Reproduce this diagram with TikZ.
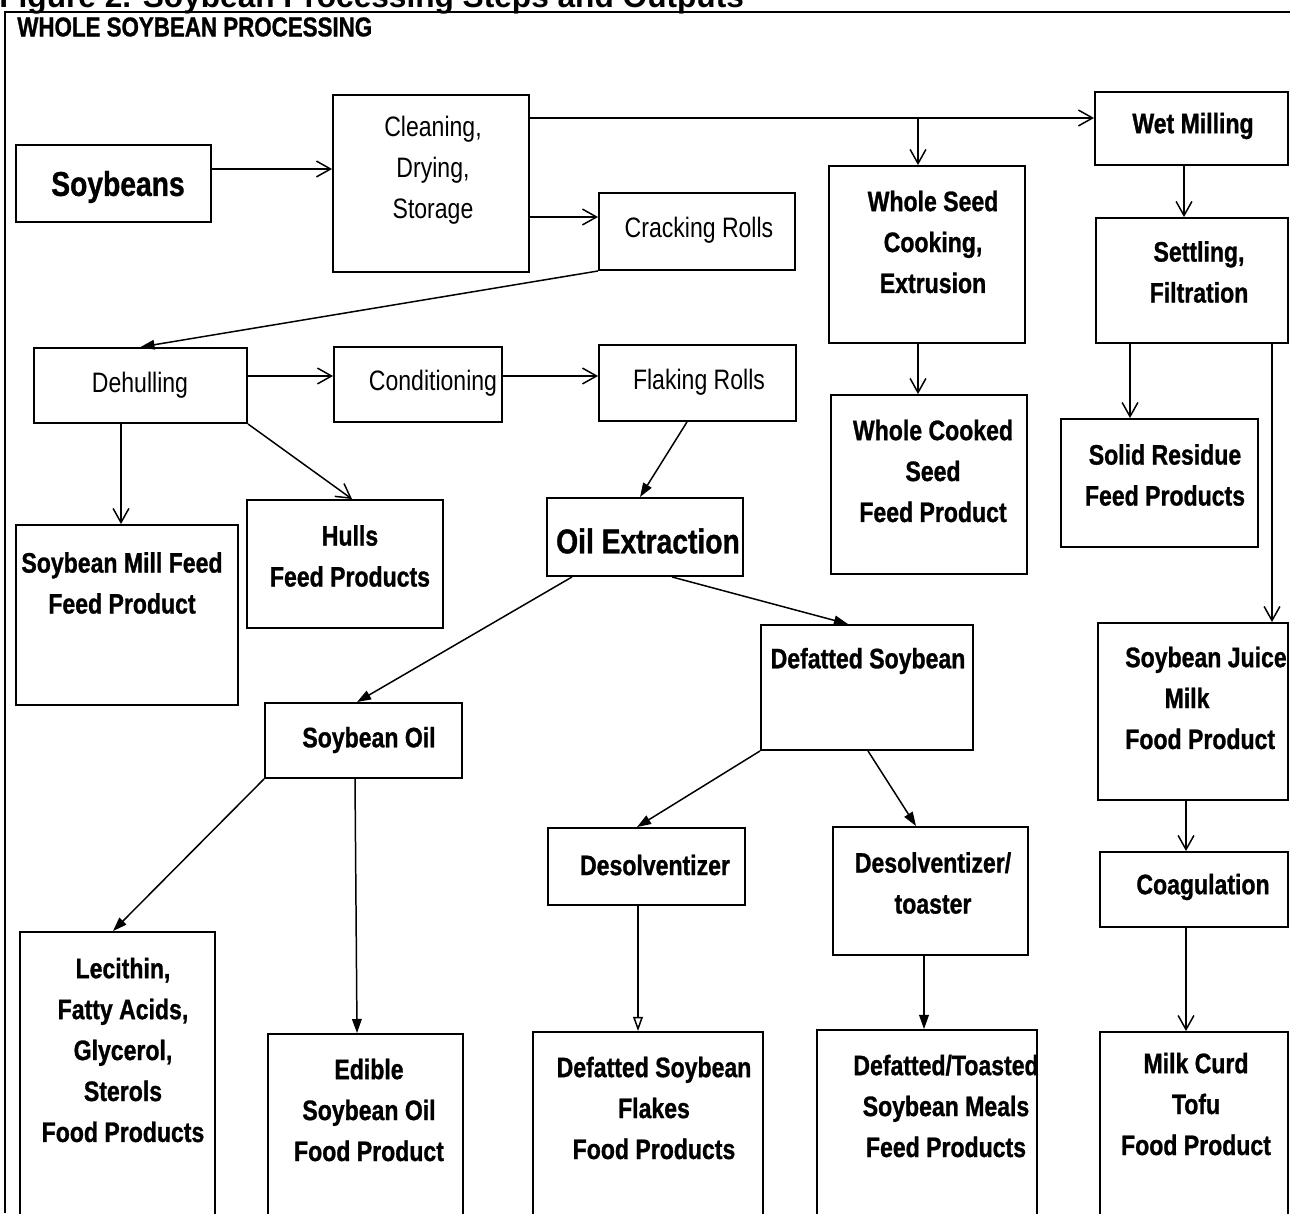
\documentclass[tikz,border=0pt]{standalone}
\usepackage{fontspec}
\usepackage{tikz}
\usetikzlibrary{arrows.meta,fit}
\newfontfamily\narrowsans{Liberation Sans}[FakeStretch=0.82, BoldFeatures={FakeBold=1}]
\newfontfamily\capsans{Liberation Sans}

\begin{document}
\begin{tikzpicture}[x=0.02cm, y=-0.02cm,
    box/.style={draw, line width=1.1pt, inner sep=0pt},
    lab/.style={align=center, inner sep=0pt, font=\narrowsans\bfseries\fontsize{16}{23.3}\selectfont},
    plainlab/.style={lab, font=\narrowsans\fontsize{16}{23.3}\selectfont},
    biglab/.style={lab, font=\narrowsans\bfseries\fontsize{19.6}{23.3}\selectfont},
    vhead/.style={line width=0.85pt, -{Straight Barb[length=8pt,width=9pt]}},
    fhead/.style={line width=0.85pt, -{Triangle[length=8pt,width=5.5pt]}},
    ohead/.style={line width=0.85pt, -{Triangle[open,length=8pt,width=5.5pt]}}]
  \useasboundingbox (0,0) rectangle (1290,1213);

  % caption and frame
  \node[anchor=base west, inner sep=0pt, font=\capsans\bfseries\fontsize{18}{20}\selectfont] (fig) at (-1,8) {Figure 2. Soybean Processing Steps and Outputs};
  \draw[line width=1.1pt] (5,1213) -- (5,12) -- (1290,12);
  \node[anchor=west, inner sep=0pt, font=\narrowsans\bfseries\fontsize{15.5}{16}\selectfont] (head) at (17,27) {WHOLE SOYBEAN PROCESSING};

  % boxes
  \node[box, fit={(16,145) (211,222)}] (soy) {};
  \node[box, fit={(333,95) (529,272)}] (clean) {};
  \node[box, fit={(599,193) (795,270)}] (crack) {};
  \node[box, fit={(1095,92) (1288,165)}] (wet) {};
  \node[box, fit={(829,166) (1025,343)}] (seed) {};
  \node[box, fit={(1096,218) (1288,343)}] (settle) {};
  \node[box, fit={(34,348) (247,423)}] (dehull) {};
  \node[box, fit={(334,347) (502,422)}] (cond) {};
  \node[box, fit={(599,345) (796,421)}] (flake) {};
  \node[box, fit={(831,395) (1027,574)}] (cooked) {};
  \node[box, fit={(1061,419) (1258,547)}] (resid) {};
  \node[box, fit={(16,525) (238,705)}] (mill) {};
  \node[box, fit={(247,500) (443,628)}] (hulls) {};
  \node[box, fit={(547,498) (743,576)}] (oilx) {};
  \node[box, fit={(761,625) (973,750)}] (defat) {};
  \node[box, fit={(1098,623) (1288,800)}] (juice) {};
  \node[box, fit={(265,703) (462,778)}] (oil) {};
  \node[box, fit={(548,828) (745,905)}] (desolv) {};
  \node[box, fit={(833,827) (1028,955)}] (toast) {};
  \node[box, fit={(1100,852) (1288,927)}] (coag) {};
  \node[box, fit={(20,932) (215,1230)}] (lec) {};
  \node[box, fit={(268,1034) (463,1230)}] (edible) {};
  \node[box, fit={(533,1032) (763,1230)}] (flakes) {};
  \node[box, fit={(817,1030) (1037,1230)}] (meals) {};
  \node[box, fit={(1100,1032) (1288,1230)}] (curd) {};

  % texts
  \node[biglab] (soy-t) at (118,187) {Soybeans};
  \node[plainlab] (clean-t) at (433,170) {Cleaning,\\Drying,\\Storage};
  \node[plainlab] (crack-t) at (699,230) {Cracking Rolls};
  \node[lab] (wet-t) at (1193,126) {Wet Milling};
  \node[lab] (seed-t) at (933,242) {Whole Seed\\Cooking,\\Extrusion};
  \node[lab] (settle-t) at (1199,272) {Settling,\\Filtration};
  \node[plainlab] (dehull-t) at (140,385) {Dehulling};
  \node[plainlab] (cond-t) at (433,383) {Conditioning};
  \node[plainlab] (flake-t) at (699,382) {Flaking Rolls};
  \node[lab] (cooked-t) at (933,471) {Whole Cooked\\Seed\\Feed Product};
  \node[lab] (resid-t) at (1165,475) {Solid Residue\\Feed Products};
  \node[lab] (mill-t) at (122,583) {Soybean Mill Feed\\Feed Product};
  \node[lab] (hulls-t) at (350,556) {Hulls\\Feed Products};
  \node[biglab] (oilx-t) at (648,541) {Oil Extraction};
  \node[lab] (defat-t) at (868,661) {Defatted Soybean};
  \node[lab, align=left] (juice-t) at (1206,698) {Soybean Juice\\\hspace*{1.4em}Milk\\Food Product};
  \node[lab] (oil-t) at (369,740) {Soybean Oil};
  \node[lab] (desolv-t) at (655,865) {Desolventizer};
  \node[lab] (toast-t) at (933,883) {Desolventizer/\\toaster};
  \node[lab] (coag-t) at (1203,887) {Coagulation};
  \node[lab] (lec-t) at (123,1050) {Lecithin,\\Fatty Acids,\\Glycerol,\\Sterols\\Food Products};
  \node[lab] (edible-t) at (369,1110) {Edible\\Soybean Oil\\Food Product};
  \node[lab] (flakes-t) at (654,1108) {Defatted Soybean\\Flakes\\Food Products};
  \node[lab] (meals-t) at (946,1106) {Defatted/Toasted\\Soybean Meals\\Feed Products};
  \node[lab] (curd-t) at (1196,1104) {Milk Curd\\Tofu\\Food Product};

  % arrows
  \coordinate (tap) at (918,118);
  \draw[vhead] (soy.east |- 0,169) -- (clean.west |- 0,169);
  \draw[vhead] (clean.east |- 0,118) -- (wet.west |- 0,118);
  \draw[vhead] (tap) -- (tap |- seed.north);
  \draw[vhead] (clean.east |- 0,217) -- (crack.west |- 0,217);
  \draw[fhead] (crack.south west) -- (dehull.north);
  \draw[vhead] (wet.south -| 1184,0) -- (settle.north -| 1184,0);
  \draw[vhead] (seed.south -| 918,0) -- (cooked.north -| 918,0);
  \draw[vhead] (settle.south -| 1130,0) -- (resid.north -| 1130,0);
  \draw[vhead] (settle.south -| 1272,0) -- (juice.north -| 1272,0);
  \draw[vhead] (dehull.east |- 0,376) -- (cond.west |- 0,376);
  \draw[vhead] (cond.east |- 0,376) -- (flake.west |- 0,376);
  \draw[vhead] (dehull.south -| 121,0) -- (mill.north -| 121,0);
  \draw[vhead] (dehull.south east) -- (hulls.north -| 352,0);
  \draw[fhead] (flake.south -| 687,0) -- (oilx.north -| 640,0);
  \draw[fhead] (oilx.south -| 572,0) -- (oil.north -| 357,0);
  \draw[fhead] (oilx.south -| 672,0) -- (defat.north -| 848,0);
  \draw[fhead] (oil.south west) -- (lec.north -| 113,0);
  \draw[fhead] (oil.south -| 355,0) -- (edible.north -| 357,0);
  \draw[fhead] (defat.south west) -- (desolv.north -| 637,0);
  \draw[fhead] (defat.south -| 868,0) -- (toast.north -| 916,0);
  \draw[ohead] (desolv.south -| 638,0) -- (flakes.north -| 638,0);
  \draw[fhead] (toast.south -| 924,0) -- (meals.north -| 924,0);
  \draw[vhead] (juice.south -| 1186,0) -- (coag.north -| 1186,0);
  \draw[vhead] (coag.south -| 1186,0) -- (curd.north -| 1186,0);
\end{tikzpicture}
\end{document}
